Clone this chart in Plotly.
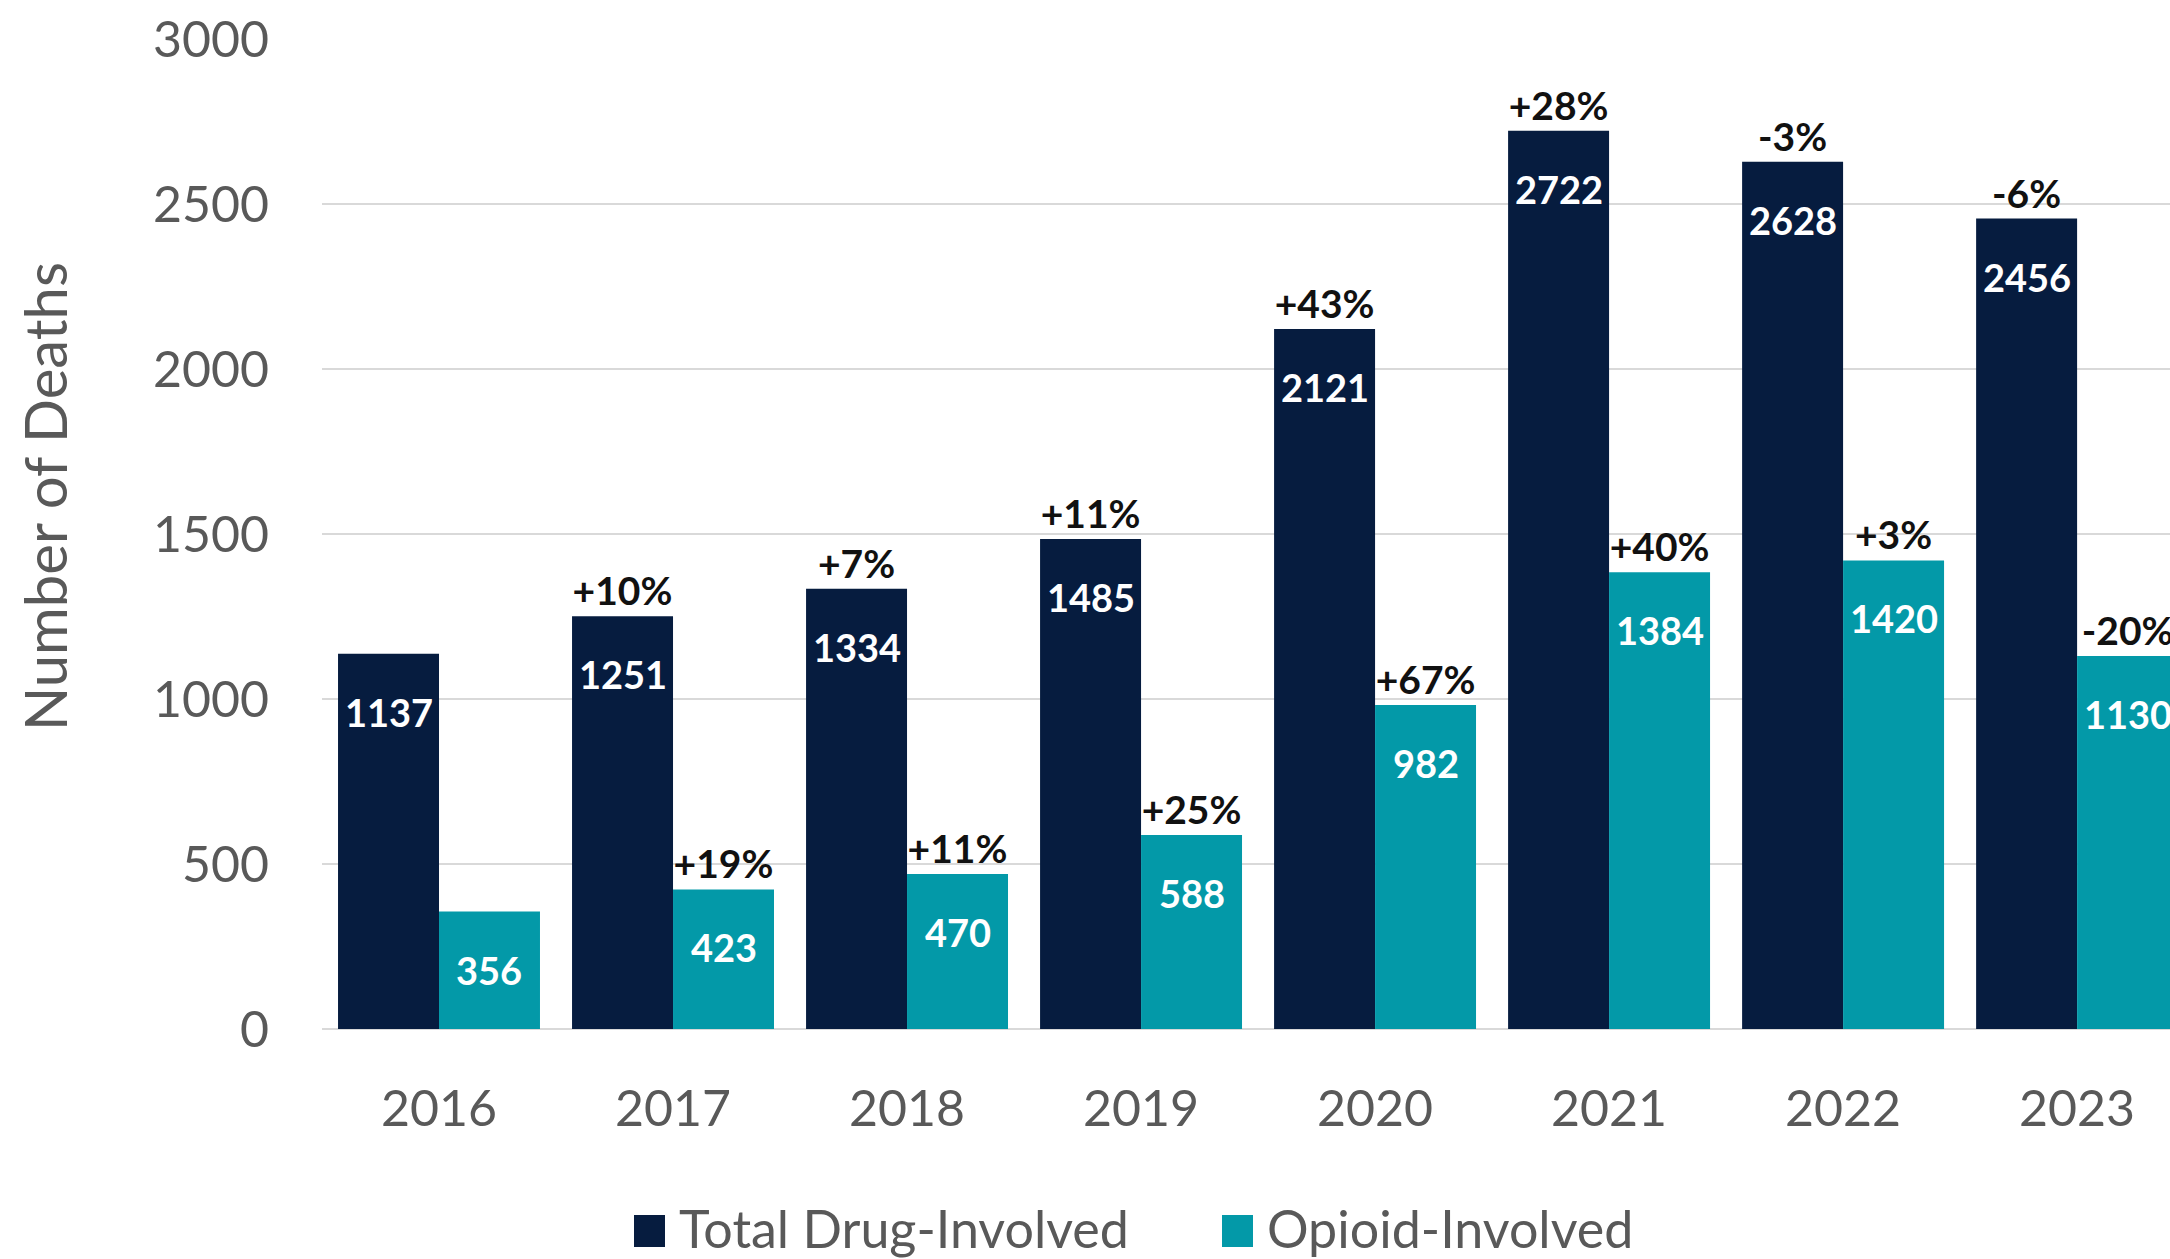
import plotly.graph_objects as go

# ── Data ──────────────────────────────────────────────────────────────────────
years = ["2016", "2017", "2018", "2019", "2020", "2021", "2022", "2023"]
total_deaths = [1137, 1251, 1334, 1485, 2121, 2722, 2628, 2456]
opioid_deaths = [356, 423, 470, 588, 982, 1384, 1420, 1130]
total_change = ["", "+10%", "+7%", "+11%", "+43%", "+28%", "-3%", "-6%"]
opioid_change = ["", "+19%", "+11%", "+25%", "+67%", "+40%", "+3%", "-20%"]

NAVY = "#061c3f"
TEAL = "#0399a8"
GREY = "#595959"
FONT = "Lato"

# ── Geometry (pixels) ─────────────────────────────────────────────────────────
W, H = 2170, 1259
M_L, M_R, M_T, M_B = 322, 0, 39, 230
PLOT_W = W - M_L - M_R
PLOT_H = H - M_T - M_B
X_RANGE = [-0.5, 7.397]
BARGAP = 0.137
cat_px = PLOT_W / (X_RANGE[1] - X_RANGE[0])
bar_shift = (1 - BARGAP) * cat_px / 4     # centre of each bar vs category


def px_x(p):
    return (p - M_L) / PLOT_W


def px_y(p):
    return (H - M_B - p) / PLOT_H


fig = go.Figure()

pct_font = dict(family=FONT, size=39, color="#111111", weight="bold")
fig.add_trace(go.Bar(
    x=years, y=total_deaths, name="Total Drug-Involved",
    marker=dict(color=NAVY, line_width=0),
    text=total_change, textposition="outside", textfont=pct_font,
    constraintext="none", cliponaxis=False, showlegend=False,
))
fig.add_trace(go.Bar(
    x=years, y=opioid_deaths, name="Opioid-Involved",
    marker=dict(color=TEAL, line_width=0),
    text=opioid_change, textposition="outside", textfont=pct_font,
    constraintext="none", cliponaxis=False, showlegend=False,
))

# ── Values inside the bars, just below the top ───────────────────────────────
# category axis -> annotate by category index (year strings look numeric)
val_font = dict(family=FONT, size=38, color="white", weight="bold")
for series, sign in ((total_deaths, -1), (opioid_deaths, 1)):
    for i, v in enumerate(series):
        fig.add_annotation(
            x=i, y=v, xref="x", yref="y", text=str(v),
            showarrow=False, font=val_font,
            xshift=sign * bar_shift, yshift=-58,
            xanchor="center", yanchor="middle",
        )

# ── Y axis title (placed by hand, slightly above plot centre) ─────────────────
fig.add_annotation(
    x=px_x(44), y=px_y(497), xref="paper", yref="paper",
    text="Number of Deaths", textangle=-90, showarrow=False,
    font=dict(family=FONT, size=58, color=GREY),
    xanchor="center", yanchor="middle",
)

# ── Legend drawn manually (large square swatches) ────────────────────────────
legend_items = [("Total Drug-Involved", NAVY, 634), ("Opioid-Involved", TEAL, 1222)]
for label, col, x0 in legend_items:
    fig.add_shape(
        type="rect", xref="paper", yref="paper",
        x0=px_x(x0), x1=px_x(x0 + 31), y0=px_y(1247), y1=px_y(1215),
        fillcolor=col, line_width=0,
    )
    fig.add_annotation(
        x=px_x(x0 + 43), y=px_y(1228), xref="paper", yref="paper",
        text=label, showarrow=False,
        font=dict(family=FONT, size=52, color=GREY),
        xanchor="left", yanchor="middle",
    )

fig.update_layout(
    width=W, height=H,
    margin=dict(l=M_L, r=M_R, t=M_T, b=M_B, autoexpand=False),
    paper_bgcolor="white", plot_bgcolor="white",
    barmode="group", bargap=BARGAP, bargroupgap=0,
    font=dict(family=FONT, color=GREY),
    showlegend=False,
    xaxis=dict(
        type="category", range=X_RANGE,
        showgrid=False, showline=False, ticks="",
        tickfont=dict(family=FONT, size=50, color=GREY),
        ticklabelstandoff=46,
    ),
    yaxis=dict(
        range=[0, 3000], dtick=500, tick0=0,
        showgrid=True, gridcolor="#d9d9d9", gridwidth=2,
        zeroline=True, zerolinecolor="#d9d9d9", zerolinewidth=2,
        showline=False, ticks="",
        tickfont=dict(family=FONT, size=50, color=GREY),
        ticklabelstandoff=52,
    ),
)

# page body has an 8px default margin; drop it so the chart sits at (0, 0)
fig.write_html(
    "out.html",
    config={"displayModeBar": False},
    post_script="document.body.style.margin='0';",
)
